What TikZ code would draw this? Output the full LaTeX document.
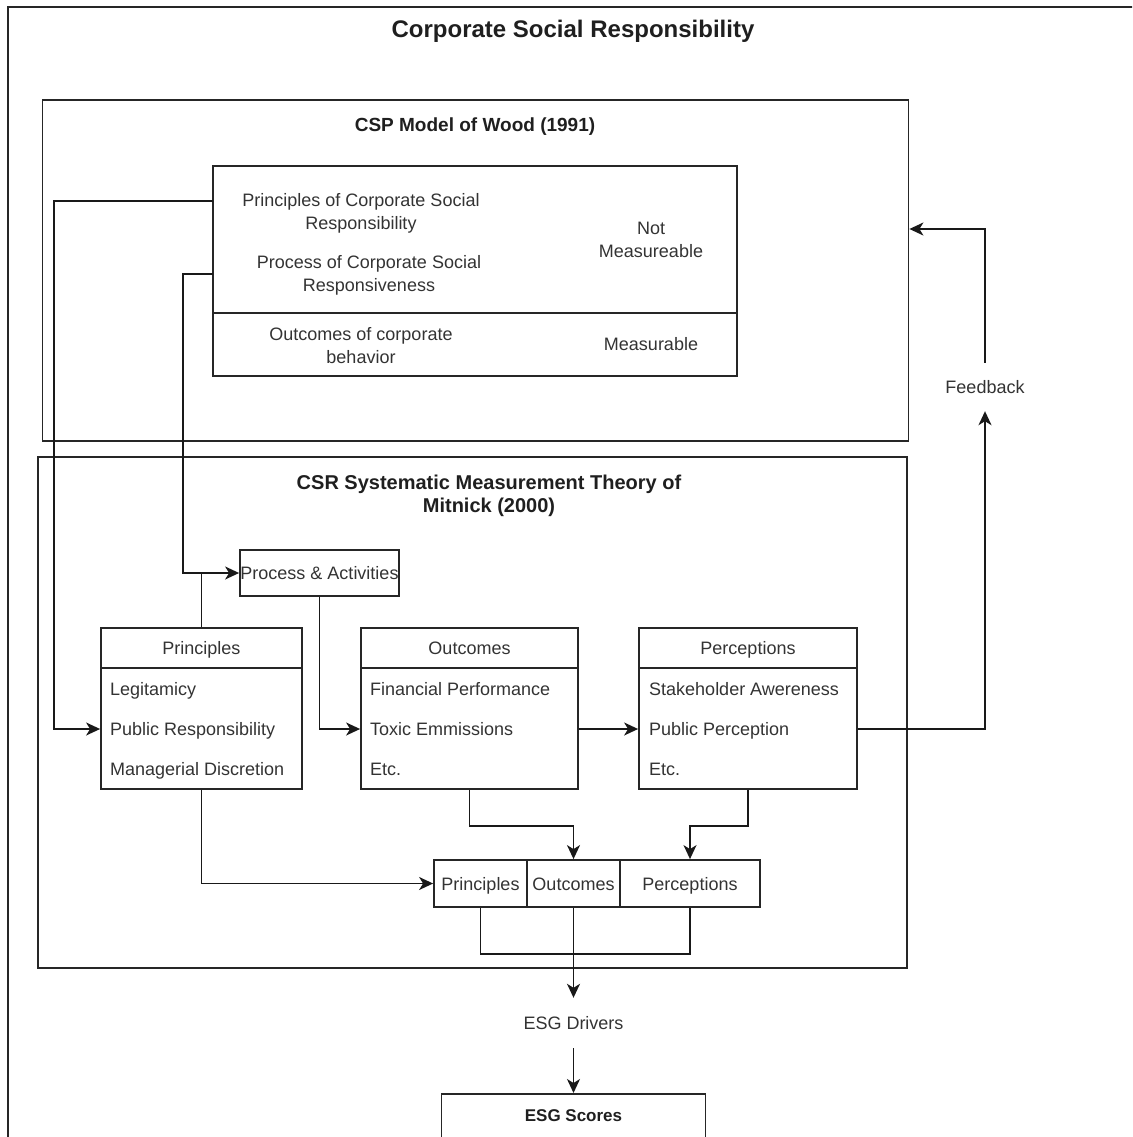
\documentclass[tikz,border=0pt]{standalone}
\usepackage{fontspec}
\setmainfont{Liberation Sans}
\usetikzlibrary{arrows.meta}
\begin{document}
\begin{tikzpicture}[x=1pt,y=-1pt,
  box/.style={draw=black!85, line width=1.8pt, inner sep=0pt},
  txt/.style={text=black!80, font=\fontsize{18}{23}\selectfont, align=center, inner sep=0pt},
  one/.style={text height=13pt, text depth=0pt},
  item/.style={txt, one, anchor=west},
  arr/.style={draw=black!90, line width=1.7pt, -{Stealth[length=14pt,width=13pt,inset=4pt]}},
  conn/.style={draw=black!90, line width=1.7pt},
  ttl/.style={text=black!88, font=\bfseries\fontsize{20}{23}\selectfont, align=center, inner sep=0pt}
]
\useasboundingbox (0,0) rectangle (1132,1137);
\begin{scope}
\clip (0,0) rectangle (1132,1137);
% outer frame
\node[box, minimum width=1150, minimum height=1160, anchor=north west] (frame) at (7,6) {};
\node[ttl, font=\bfseries\fontsize{24}{28}\selectfont] (title) at (573,31) {Corporate Social Responsibility};

% Wood model
\node[box, minimum width=866, minimum height=341] (wood) at (475.5,270.5) {};
\node[ttl, font=\bfseries\fontsize{19}{23}\selectfont] (woodt) at (475,127) {CSP Model of Wood (1991)};
\node[box, minimum width=524, minimum height=147] (tblA) at (475,239.5) {};
\node[box, minimum width=524, minimum height=63] (tblB) at (475,344.5) {};
\node[txt] (pcsr) at (361,213.5) {Principles of Corporate Social\\Responsibility};
\node[txt] (pcsrv) at (369,275.5) {Process of Corporate Social\\Responsiveness};
\node[txt] (nm) at (651,239.5) {Not\\Measureable};
\node[txt] (ocb) at (361,345.5) {Outcomes of corporate\\behavior};
\node[txt, one] (meas) at (651,344) {Measurable};

% Mitnick
\node[box, minimum width=869, minimum height=511] (mit) at (472.5,712.5) {};
\node[ttl] (mitt) at (489,495.5) {CSR Systematic Measurement Theory of\\Mitnick (2000)};

\node[box, minimum width=159, minimum height=46, txt, one] (pa) at (319.5,573) {Process \& Activities};

% Principles
\node[box, minimum width=201, minimum height=40, txt, one] (prH) at (201.5,648) {Principles};
\node[box, minimum width=201, minimum height=121] (prB) at (201.5,728.5) {};
\node[item] (pr1) at (110,689) {Legitamicy};
\node[item] (pr2) at (110,729) {Public Responsibility};
\node[item] (pr3) at (110,769) {Managerial Discretion};

% Outcomes
\node[box, minimum width=217, minimum height=40, txt, one] (ouH) at (469.5,648) {Outcomes};
\node[box, minimum width=217, minimum height=121] (ouB) at (469.5,728.5) {};
\node[item] (ou1) at (370,689) {Financial Performance};
\node[item] (ou2) at (370,729) {Toxic Emmissions};
\node[item] (ou3) at (370,769) {Etc.};

% Perceptions
\node[box, minimum width=218, minimum height=40, txt, one] (peH) at (748,648) {Perceptions};
\node[box, minimum width=218, minimum height=121] (peB) at (748,728.5) {};
\node[item] (pe1) at (649,689) {Stakeholder Awereness};
\node[item] (pe2) at (649,729) {Public Perception};
\node[item] (pe3) at (649,769) {Etc.};

% combined
\node[box, minimum width=93, minimum height=47, txt, one] (cPr) at (480.5,883.5) {Principles};
\node[box, minimum width=93, minimum height=47, txt, one] (cO) at (573.5,883.5) {Outcomes};
\node[box, minimum width=140, minimum height=47, txt, one] (cP) at (690,883.5) {Perceptions};

% ESG
\node[txt, one, minimum height=50] (esgd) at (573.5,1023) {ESG Drivers};
\node[box, minimum width=264, minimum height=70, anchor=north] (esgs) at (573.5,1093) {};
\node[ttl, font=\bfseries\fontsize{17}{20}\selectfont] (esgst) at (573.5,1116) {ESG Scores};

% feedback
\node[txt, one, minimum height=48] (fb) at (985,387) {Feedback};

% helper coordinates
\coordinate (a1) at (213,201);
\coordinate (k1) at (54,201);
\coordinate (a2) at (213,274);
\coordinate (k2) at (183,274);
\coordinate (k3) at (985,229);

% connectors
\draw[arr] (a1) -- (k1) |- (prB.west |- pr2);
\draw[arr] (a2) -- (k2) |- (pa.west);
\draw[conn] (prH.north) -- (prH.north |- pa.west);
\draw[arr] (pa.south) |- (ouB.west |- ou2);
\draw[arr] (ouB.east |- ou2) -- (peB.west |- pe2);
\draw[arr] (peB.east |- pe2) -| (fb.south);
\draw[arr] (fb.north) -- (k3) -- (wood.east |- k3);
\draw[arr] (ouB.south) -- ++(0,36) -| (cO.north);
\draw[arr] (peB.south) -- ++(0,36) -| (cP.north);
\draw[arr] (prB.south) |- (cPr.west);
\draw[conn] (cPr.south) -- ++(0,46) -| (cP.south);
\draw[arr] (cO.south) -- (esgd.north);
\draw[arr] (esgd.south) -- (esgs.north);
\end{scope}
\end{tikzpicture}
\end{document}
